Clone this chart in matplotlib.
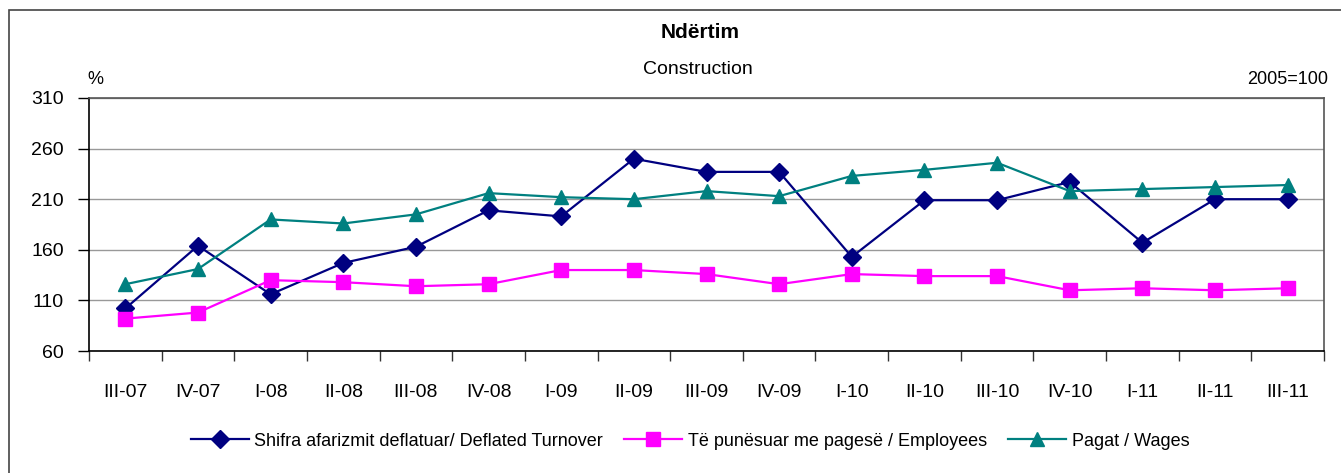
import matplotlib
matplotlib.use("Agg")
import matplotlib.pyplot as plt
from matplotlib.patches import Rectangle

plt.rcParams['font.family'] = ['Liberation Sans', 'DejaVu Sans']

quarters = ["III-07", "IV-07", "I-08", "II-08", "III-08", "IV-08", "I-09", "II-09",
            "III-09", "IV-09", "I-10", "II-10", "III-10", "IV-10", "I-11", "II-11", "III-11"]
turnover = [102, 164, 116, 147, 163, 199, 193, 250, 237, 237, 153, 209, 209, 227, 167, 210, 210]
employees = [92, 98, 130, 128, 124, 126, 140, 140, 136, 126, 136, 134, 134, 120, 122, 120, 122]
wages = [126, 141, 190, 186, 195, 216, 212, 210, 218, 213, 233, 239, 246, 218, 220, 222, 224]

W, H = 1341, 473
fig = plt.figure(figsize=(W / 100, H / 100), dpi=100)
fig.patches.append(Rectangle((9 / W, -0.05), 1.2, 1 - 10 / H + 0.05, transform=fig.transFigure,
                             fill=False, edgecolor="#444444", linewidth=1.2))

ax = fig.add_axes([89 / W, 1 - 351 / H, (1324 - 89) / W, (351 - 98) / H])
x = range(len(quarters))
ax.plot(x, turnover, color="#000080", marker="D", markersize=9, linewidth=1.6,
        label="Shifra afarizmit deflatuar/ Deflated Turnover")
ax.plot(x, employees, color="#FF00FF", marker="s", markersize=10, linewidth=1.6,
        label="Të punësuar me pagesë / Employees")
ax.plot(x, wages, color="#008080", marker="^", markersize=10, linewidth=1.6,
        label="Pagat / Wages")

ax.set_xlim(-0.5, len(quarters) - 0.5)
ax.set_ylim(60, 310)
ax.set_yticks(range(60, 311, 50))
ax.set_xticks(list(x))
ax.set_xticklabels(quarters)
ax.set_xticks([i + 0.5 for i in range(-1, len(quarters))], minor=True)
ax.tick_params(axis="x", which="major", length=0, pad=24, labelsize=14)
ax.tick_params(axis="x", which="minor", length=7, width=1, color="#333333")
ax.tick_params(axis="y", length=8, width=1, labelsize=14, pad=10)
ax.yaxis.grid(True, color="#999999", linewidth=1)
ax.set_axisbelow(True)
for s in ["left", "bottom"]:
    ax.spines[s].set_color("black")
    ax.spines[s].set_linewidth(1.2)
for s in ["top", "right"]:
    ax.spines[s].set_color("#555555")
    ax.spines[s].set_linewidth(1.2)

fig.text(700 / W, 1 - 32 / H, "Ndërtim", ha="center", va="center", fontsize=15, fontweight="bold")
fig.text(698 / W, 1 - 69 / H, "Construction", ha="center", va="center", fontsize=14)
fig.text(95 / W, 1 - 79 / H, "%", ha="center", va="center", fontsize=13)
fig.text(1328 / W, 1 - 80 / H, "2005=100", ha="right", va="center", fontsize=13)

fig.legend(loc="center", bbox_to_anchor=(690 / W, 1 - 441 / H), ncol=3, frameon=False,
           fontsize=13, handlelength=3.2, columnspacing=1.2, handletextpad=0.3)

fig.savefig("out.png", dpi=100)
